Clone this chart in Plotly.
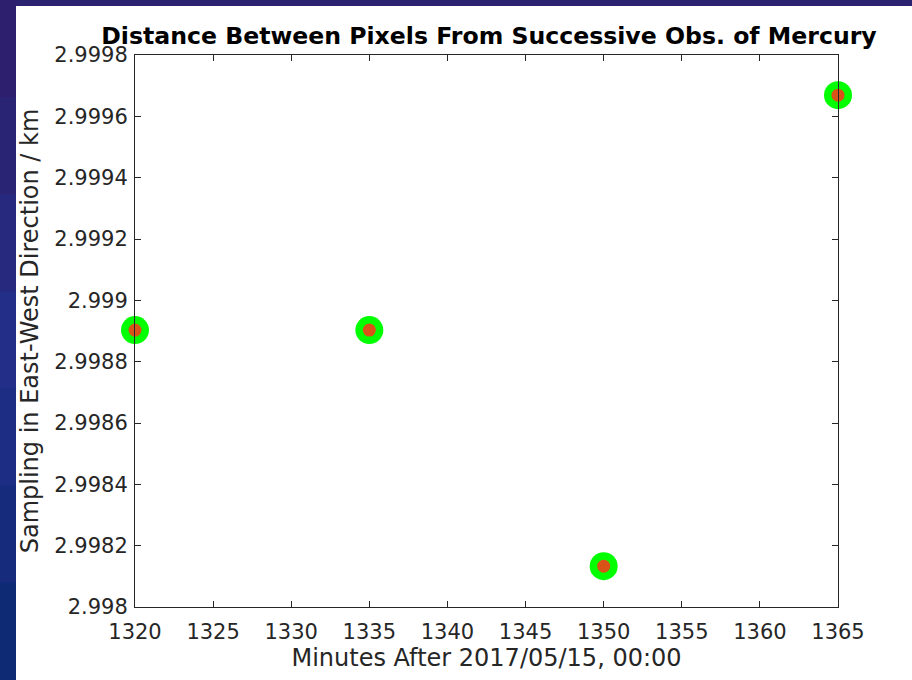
import plotly.graph_objects as go

minutes = [1320, 1335, 1350, 1365]
sampling_km = [2.998903, 2.998903, 2.998133, 2.999669]
y_tickvals = [2.998, 2.9982, 2.9984, 2.9986, 2.9988, 2.999, 2.9992, 2.9994, 2.9996, 2.9998]
y_ticktext = ["2.998", "2.9982", "2.9984", "2.9986", "2.9988", "2.999", "2.9992", "2.9994", "2.9996", "2.9998"]
x_tickvals = [1320, 1325, 1330, 1335, 1340, 1345, 1350, 1355, 1360, 1365]

W, H = 912, 680
L, R, T, B = 135, 74, 55, 73
pw, ph = W - L - R, H - T - B

def px_x(p):
    return (p - L) / pw

def px_y(p):
    return (H - B - p) / ph

fig = go.Figure()
fig.add_trace(go.Scatter(x=minutes, y=sampling_km, mode="markers",
                         marker=dict(symbol="circle", size=28, color="#00ff00", line=dict(width=0)),
                         cliponaxis=False, showlegend=False, hoverinfo="skip"))
fig.add_trace(go.Scatter(x=minutes, y=sampling_km, mode="markers",
                         marker=dict(symbol="circle", size=13, color="#d95319", line=dict(width=0)),
                         cliponaxis=False, showlegend=False))

# background gradient on the left strip (slide background)
grad = ["#2e1f6e", "#2a2474", "#26297e", "#232e88", "#1d2d84", "#162b7c", "#0f2a75"]
n = len(grad)
for i, c in enumerate(grad):
    fig.add_shape(type="rect", xref="paper", yref="paper",
                  x0=px_x(-1), x1=px_x(17), y0=px_y(H * (i + 1) / n + 1), y1=px_y(H * i / n),
                  fillcolor=c, line=dict(width=0), layer="below")

fig.add_shape(type="rect", xref="paper", yref="paper",
              x0=px_x(16), x1=px_x(913), y0=px_y(681), y1=px_y(6),
              fillcolor="white", line=dict(width=0), layer="below")

tickfont = dict(family="DejaVu Sans", size=21, color="#262626")
axis_common = dict(showgrid=False, zeroline=False, showline=True, linecolor="#262626",
                   linewidth=1, mirror="ticks", ticks="inside", ticklen=6, tickcolor="#262626",
                   tickfont=tickfont)

fig.update_xaxes(range=[1320, 1365], tickvals=x_tickvals, ticklabelstandoff=6,
                 title=dict(text="Minutes After 2017/05/15, 00:00", standoff=2,
                            font=dict(family="DejaVu Sans", size=24, color="#262626")),
                 **axis_common)
fig.update_yaxes(range=[2.998, 2.9998], tickvals=y_tickvals, ticktext=y_ticktext,
                 ticklabelstandoff=2,
                 title=dict(text="Sampling in East-West Direction / km", standoff=8,
                            font=dict(family="DejaVu Sans", size=24, color="#262626")),
                 **axis_common)

fig.update_layout(
    width=W, height=H,
    margin=dict(l=L, r=R, t=T, b=B),
    paper_bgcolor="#2b2270",
    plot_bgcolor="white",
    title=dict(text="<b>Distance Between Pixels From Successive Obs. of Mercury</b>",
               x=px_x(489), xref="paper", xanchor="center",
               y=1 - 35.5 / H, yanchor="middle",
               font=dict(family="DejaVu Sans", size=23.6, color="black")),
)

fig.write_html("out.html", config={"displayModeBar": False},
               post_script="document.body.style.margin='0';document.body.style.background='#2b2270';")
